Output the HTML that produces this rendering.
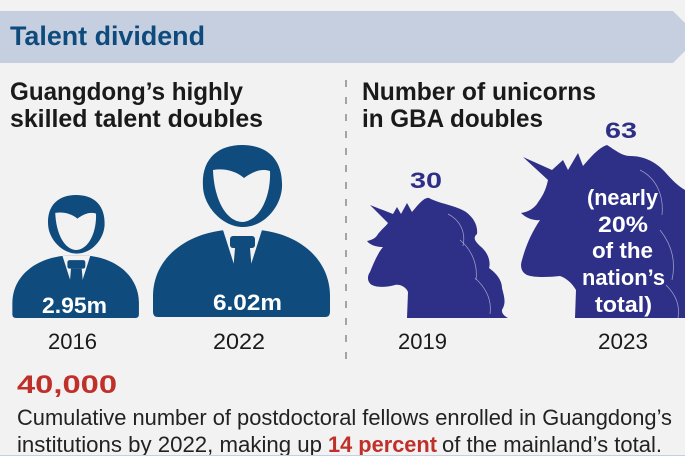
<!DOCTYPE html>
<html>
<head>
<meta charset="utf-8">
<style>
html,body{margin:0;padding:0;background:#f2f2f2;}
svg{display:block;}
text{font-family:"Liberation Sans",Arial,sans-serif;}
</style>
</head>
<body>
<svg width="685" height="456" viewBox="0 0 685 456" xmlns="http://www.w3.org/2000/svg">
  <rect x="0" y="0" width="685" height="456" fill="#f2f2f2"/>
  <!-- header band -->
  <polygon points="0,11 673,11 699,37 673,63 0,63" fill="#c6cfdf"/>
  <text x="10" y="45" font-size="27" font-weight="bold" fill="#0f4a7c" textLength="195" lengthAdjust="spacingAndGlyphs">Talent dividend</text>

  <!-- headings -->
  <text x="10" y="100" font-size="25" font-weight="bold" fill="#1a1a1a" textLength="233" lengthAdjust="spacingAndGlyphs">Guangdong’s highly</text>
  <text x="10" y="127" font-size="25" font-weight="bold" fill="#1a1a1a" textLength="253" lengthAdjust="spacingAndGlyphs">skilled talent doubles</text>
  <text x="362" y="100" font-size="25" font-weight="bold" fill="#1a1a1a" textLength="234" lengthAdjust="spacingAndGlyphs">Number of unicorns</text>
  <text x="362" y="127" font-size="25" font-weight="bold" fill="#1a1a1a" textLength="181" lengthAdjust="spacingAndGlyphs">in GBA doubles</text>

  <!-- dashed divider -->
  <line x1="346" y1="80" x2="346" y2="360" stroke="#8a8a8a" stroke-width="1.5" stroke-dasharray="7,10"/>

  <!-- person icon definition -->
  <defs>
    <g id="person">
      <path d="M -39,42 C -41,14 -24,0 0,0 C 25,0 41,14 40,42 C 39,62 22,82 1,82 C -19,82 -38,62 -39,42 Z" fill="#0f4b7d"/>
      <path d="M -29,25 C -18,23 -6,26 2,33 C 10,27 19,23 28,26 C 29,50 19,75 1,77 C -16,77 -28,54 -29,25 Z" fill="#f2f2f2"/>
      <path d="M -16,85 C -52,88 -88,110 -89,150 L -89,167 Q -89,172 -84,172 L 83,172 Q 88,172 88,167 L 88,150 C 87,110 52,88 17,85 Z" fill="#0f4b7d"/>
      <path d="M -19,85 L 20,85 L 0.5,146 Z" fill="#f2f2f2"/>
      <rect x="-12" y="91" width="25" height="12" rx="3" fill="#0f4b7d"/>
      <path d="M -7,103 L 8,103 L 11,139 L 0.5,148 L -10,139 Z" fill="#0f4b7d"/>
    </g>
  </defs>

  <use href="#person" transform="translate(76,195) scale(0.715)"/>
  <use href="#person" transform="translate(242,145)"/>

  <text x="42" y="313" font-size="22" font-weight="bold" fill="#ffffff" textLength="65" lengthAdjust="spacingAndGlyphs">2.95m</text>
  <text x="213" y="310" font-size="22" font-weight="bold" fill="#ffffff" textLength="69" lengthAdjust="spacingAndGlyphs">6.02m</text>

  <text x="48" y="349" font-size="22" fill="#1a1a1a" textLength="49" lengthAdjust="spacingAndGlyphs">2016</text>
  <text x="213" y="349" font-size="22" fill="#1a1a1a" textLength="52" lengthAdjust="spacingAndGlyphs">2022</text>

  <!-- unicorn 1 -->
  <path d="M 370,205 L 393,214 L 397,207 L 401,214 L 407,203 L 412,212
           C 418,205 424,197 429,198
           C 440,204 455,205 466,212 C 474,218 478,226 477,234
           C 472,238 476,242 480,246
           C 488,252 491,262 489,268 C 496,273 502,280 502,288
           C 504,296 506,302 503,308 C 500,312 504,316 508,318
           L 407,318 L 408,292 C 406,287 400,284 395,285
           C 388,287 378,288 372,285 C 367,282 367,276 370,272
           C 374,262 378,253 383,247
           C 376,247 370,245 367,241 C 372,240 376,238 378,234
           C 382,229 386,226 388,223 Z" fill="#2e2f87"/>
  <path d="M 448,214 C 460,220 466,232 463,246 M 460,240 C 472,250 478,265 476,280 M 475,278 C 486,288 492,300 490,314" stroke="#c8c8e0" stroke-width="0.8" fill="none" opacity="0.7"/>

  <!-- unicorn 2 -->
  <path d="M 523,157 L 552,170 L 563,160 L 568,170 L 578,153 L 583,166
           C 590,158 598,148 607,145
           C 615,150 622,156 630,156 C 645,156 657,163 665,172
           C 672,180 678,186 685,190
           L 685,318 L 575,318 L 576,290
           C 572,283 566,278 560,276
           C 550,277 535,278 527,275 C 521,272 520,266 522,260
           C 526,245 532,232 540,220
           C 534,221 526,218 521,213 C 528,212 533,209 537,204
           C 540,199 545,194 548,180 Z" fill="#2e2f87"/>
  <path d="M 640,170 C 656,178 664,195 662,215 M 660,230 C 672,245 676,262 672,280 M 666,285 C 676,295 680,305 678,318" stroke="#c8c8e0" stroke-width="0.8" fill="none" opacity="0.7"/>

  <text x="410" y="188" font-size="22" font-weight="bold" fill="#2e2f87" textLength="32" lengthAdjust="spacingAndGlyphs">30</text>
  <text x="605" y="138" font-size="22" font-weight="bold" fill="#2e2f87" textLength="32" lengthAdjust="spacingAndGlyphs">63</text>

  <text x="587" y="205" font-size="22" font-weight="bold" fill="#ffffff" textLength="71" lengthAdjust="spacingAndGlyphs">(nearly</text>
  <text x="598" y="232" font-size="22" font-weight="bold" fill="#ffffff" textLength="50" lengthAdjust="spacingAndGlyphs">20%</text>
  <text x="592" y="258" font-size="22" font-weight="bold" fill="#ffffff" textLength="61" lengthAdjust="spacingAndGlyphs">of the</text>
  <text x="582" y="285" font-size="22" font-weight="bold" fill="#ffffff" textLength="83" lengthAdjust="spacingAndGlyphs">nation’s</text>
  <text x="595" y="312" font-size="22" font-weight="bold" fill="#ffffff" textLength="57" lengthAdjust="spacingAndGlyphs">total)</text>

  <text x="398" y="349" font-size="22" fill="#1a1a1a" textLength="49" lengthAdjust="spacingAndGlyphs">2019</text>
  <text x="598" y="349" font-size="22" fill="#1a1a1a" textLength="50" lengthAdjust="spacingAndGlyphs">2023</text>

  <!-- bottom -->
  <text x="17" y="393" font-size="25" font-weight="bold" fill="#c0302b" textLength="100" lengthAdjust="spacingAndGlyphs">40,000</text>
  <text x="17" y="425" font-size="22" fill="#222222" textLength="655" lengthAdjust="spacingAndGlyphs">Cumulative number of postdoctoral fellows enrolled in Guangdong’s</text>
  <text x="17" y="452" font-size="22" fill="#222222" textLength="305" lengthAdjust="spacingAndGlyphs">institutions by 2022, making up</text>
  <text x="328" y="452" font-size="22" font-weight="bold" fill="#c0302b" textLength="109" lengthAdjust="spacingAndGlyphs">14 percent</text>
  <text x="442" y="452" font-size="22" fill="#222222" textLength="220" lengthAdjust="spacingAndGlyphs">of the mainland’s total.</text>
  <line x1="0" y1="455.5" x2="685" y2="455.5" stroke="#c6cfdf" stroke-width="1"/>
</svg>
</body>
</html>
